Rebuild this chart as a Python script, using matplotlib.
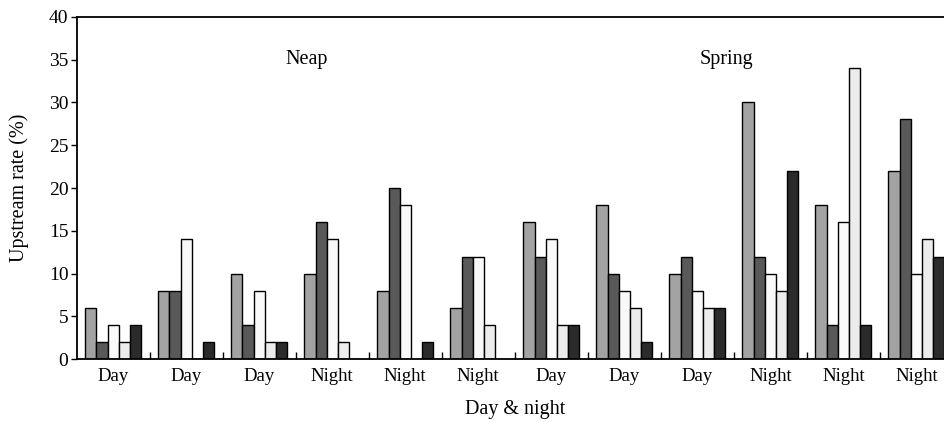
import numpy as np
import matplotlib.pyplot as plt

plt.rcParams['font.family'] = ['Liberation Serif', 'DejaVu Serif']

periods = ["Day", "Day", "Day", "Night", "Night", "Night",
           "Day", "Day", "Day", "Night", "Night", "Night"]

# upstream rate (%) for the five series, one value per period
s1 = [6, 8, 10, 10, 8, 6, 16, 18, 10, 30, 18, 22]
s2 = [2, 8, 4, 16, 20, 12, 12, 10, 12, 12, 4, 28]
s3 = [4, 14, 8, 14, 18, 12, 14, 8, 8, 10, 16, 10]
s4 = [2, 0, 2, 2, 0, 4, 4, 6, 6, 8, 34, 14]
s5 = [4, 2, 2, 0, 2, 0, 4, 2, 6, 22, 4, 12]

series = [s1, s2, s3, s4, s5]
colors = ["#a3a3a3", "#595959", "#f9f9f9", "#ececec", "#2b2b2b"]

fig = plt.figure(figsize=(9.44, 4.22), dpi=100)
ax = fig.add_axes([0.0813, 0.1486, 0.928, 0.8118])

x = np.arange(len(periods))
w = 0.153
for k, (vals, c) in enumerate(zip(series, colors)):
    ax.bar(x + (k - 2) * w, vals, width=w, color=c, edgecolor="black", linewidth=1.0)

ax.set_xlim(-0.5, len(periods) - 0.5)
ax.set_ylim(0, 40)
ax.set_yticks(range(0, 41, 5))
ax.set_xticks(x)
ax.set_xticklabels(periods, fontsize=13.5)
ax.set_xticks(np.arange(0.5, len(periods) - 0.5, 1), minor=True)
ax.tick_params(axis='x', which='major', length=0, pad=6)
ax.tick_params(axis='x', which='minor', direction='in', length=5, width=1)
ax.tick_params(axis='y', direction='out', length=4, width=1, labelsize=14, pad=2)

for side in ["left", "bottom", "top"]:
    ax.spines[side].set_linewidth(1.3)
ax.spines["right"].set_visible(False)

ax.text(2.65, 35, "Neap", fontsize=14.5, ha="center", va="center")
ax.text(8.4, 35, "Spring", fontsize=14.5, ha="center", va="center")

ax.set_ylabel("Upstream rate (%)", fontsize=14.5, labelpad=14)
ax.set_xlabel("Day & night", fontsize=14.5, labelpad=11)

fig.savefig("out.png", dpi=100)
